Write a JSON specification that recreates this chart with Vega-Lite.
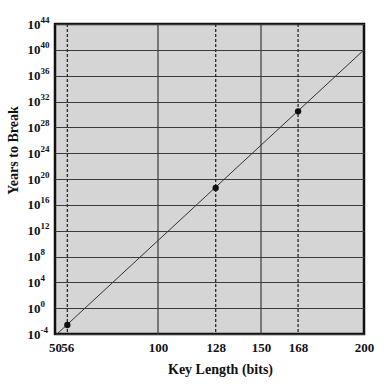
{
  "$schema": "https://vega.github.io/schema/vega-lite/v6.json",
  "width": 309,
  "height": 310,
  "autosize": "none",
  "padding": {"left": 55, "top": 24, "right": 28, "bottom": 50},
  "background": "#ffffff",
  "config": {
    "view": {"fill": "#d5d5d5", "stroke": "#111111", "strokeWidth": 2.5},
    "font": "Liberation Serif"
  },
  "resolve": {"axis": {"y": "independent"}},
  "datasets": {
    "curve": [{"bits": 51, "years": 1e-4}, {"bits": 200, "years": 1e40}],
    "pts": [{"bits": 56, "years": 2.5e-3}, {"bits": 128, "years": 4e18}, {"bits": 168, "years": 3e30}],
    "keys": [{"bits": 56}, {"bits": 128}, {"bits": 168}],
    "vgrid": [{"bits": 100}, {"bits": 150}]
  },
  "layer": [
    {
      "data": {"name": "vgrid"},
      "mark": {"type": "rule", "color": "#3a3a3a", "strokeWidth": 1.2},
      "encoding": {
        "x": {"field": "bits", "type": "quantitative", "scale": {"domain": [50, 200], "nice": false, "zero": false}}
      }
    },
    {
      "data": {"name": "keys"},
      "mark": {"type": "rule", "color": "#2a2a2a", "strokeWidth": 1.3, "strokeDash": [3, 2]},
      "encoding": {
        "x": {"field": "bits", "type": "quantitative"}
      }
    },
    {
      "data": {"name": "curve"},
      "mark": {"type": "line", "color": "#333333", "strokeWidth": 1},
      "encoding": {
        "x": {
          "field": "bits", "type": "quantitative",
          "scale": {"domain": [50, 200], "nice": false, "zero": false},
          "axis": {
            "values": [50, 56, 100, 128, 150, 168, 200],
            "grid": false, "ticks": false, "domain": false,
            "labelFont": "Liberation Serif", "labelFontSize": 13, "labelFontWeight": "bold", "labelColor": "#111111",
            "labelPadding": 7, "labelFlush": false, "labelOverlap": false,
            "title": "Key Length (bits)",
            "titleFont": "Liberation Serif", "titleFontSize": 14, "titleFontWeight": "bold", "titleColor": "#111111",
            "titleX": 165, "titleY": 39, "titleBaseline": "alphabetic", "titleAlign": "center"
          }
        },
        "y": {
          "field": "years", "type": "quantitative",
          "scale": {"type": "log", "domain": [1e-4, 1e44], "nice": false},
          "axis": {
            "orient": "left",
            "values": [1e-4, 1, 1e4, 1e8, 1e12, 1e16, 1e20, 1e24, 1e28, 1e32, 1e36, 1e40, 1e44],
            "grid": true, "gridColor": "#3a3a3a", "gridWidth": 1.2, "gridOpacity": 1,
            "ticks": false, "domain": false,
            "labelExpr": "'10'",
            "labelFont": "Liberation Serif", "labelFontSize": 13, "labelFontWeight": "bold", "labelColor": "#111111",
            "labelPadding": 15, "labelAlign": "right", "labelBaseline": "middle", "labelOverlap": false, "labelFlush": false,
            "title": "Years to Break",
            "titleFont": "Liberation Serif", "titleFontSize": 14, "titleFontWeight": "bold", "titleColor": "#111111",
            "titleX": -42, "titleY": 126, "titleAngle": -90, "titleAlign": "center", "titleBaseline": "middle"
          }
        }
      }
    },
    {
      "data": {"name": "pts"},
      "mark": {"type": "point", "filled": true, "color": "#111111", "size": 40, "opacity": 1},
      "encoding": {
        "x": {"field": "bits", "type": "quantitative"},
        "y": {
          "field": "years", "type": "quantitative",
          "axis": {
            "orient": "left",
            "values": [1e-4, 1, 1e4, 1e8, 1e12, 1e16, 1e20, 1e24, 1e28, 1e32, 1e36, 1e40, 1e44],
            "grid": false, "ticks": false, "domain": false,
            "labelExpr": "'' + round(log(datum.value)/LN10)",
            "labelFont": "Liberation Serif", "labelFontSize": 9, "labelFontWeight": "bold", "labelColor": "#111111",
            "labelPadding": 15, "labelAlign": "left", "labelBaseline": "middle", "labelOffset": -5,
            "labelOverlap": false, "labelFlush": false,
            "title": null
          }
        }
      }
    }
  ]
}
